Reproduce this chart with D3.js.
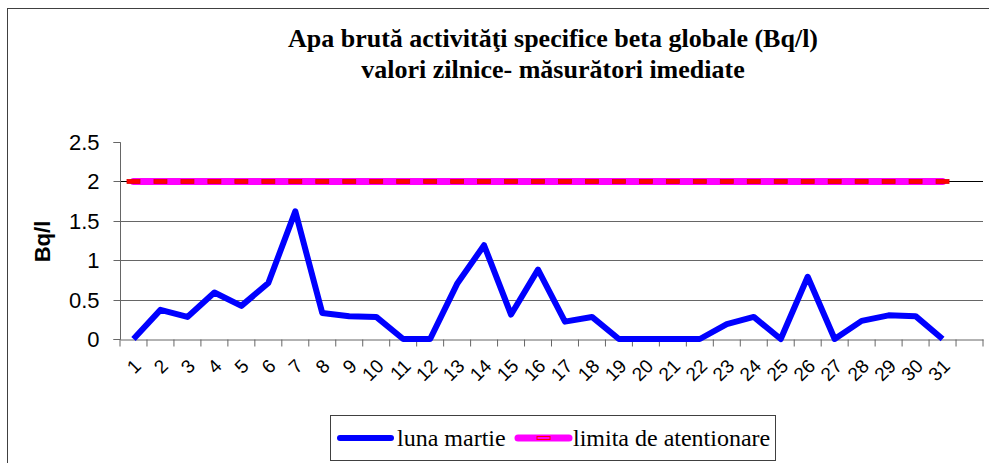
<!DOCTYPE html>
<html>
<head>
  <meta charset="utf-8">
  <title>Apa bruta beta globale</title>
  <script src="https://d3js.org/d3.v7.min.js"></script>
  <style>
    body { margin: 0; background: #fff; }
    svg { display: block; }
  </style>
</head>
<body>
  <svg id="chart"></svg>

  <script>
    // date
    var days = ["1","2","3","4","5","6","7","8","9","10","11","12","13","14","15","16",
                "17","18","19","20","21","22","23","24","25","26","27","28","29","30","31"];
    var lunaMartie = [0, 0.37, 0.28, 0.59, 0.42, 0.71, 1.62, 0.33, 0.29, 0.28, 0, 0, 0.70, 1.19, 0.31, 0.88,
                      0.22, 0.28, 0, 0, 0, 0, 0.19, 0.28, 0, 0.79, 0, 0.23, 0.30, 0.29, 0];
    var limita = [2,2,2,2,2,2,2,2,2,2,2,2,2,2,2,2,2,2,2,2,2,2,2,2,2,2,2,2,2,2,2];
    var yTicks = [0, 0.5, 1, 1.5, 2, 2.5];
    var gridTicks = [0.5, 1, 1.5, 2];
    var titleLines = ["Apa brută activităţi specifice beta globale (Bq/l)", "valori zilnice- măsurători imediate"];
    var legendNames = ["luna martie", "limita de atentionare"];

    var width = 989, height = 463;
    var pLeft = 120, pRight = 983, pTop = 142, pBottom = 339;

    var svg = d3.select("#chart")
      .attr("width", width)
      .attr("height", height);

    // chenarul graficului (iese din imagine la dreapta si jos)
    svg.append("rect")
      .attr("x", 7.5).attr("y", 8.5)
      .attr("width", 1000).attr("height", 500)
      .attr("fill", "none")
      .attr("stroke", "#404040");

    // titlu
    svg.selectAll(".title")
      .data(titleLines)
      .enter()
      .append("text")
      .attr("class", "title")
      .attr("x", 553)
      .attr("y", function(d, i) { return 47 + i * 31; })
      .attr("text-anchor", "middle")
      .style("font-family", "'Liberation Serif', 'Times New Roman', serif")
      .style("font-weight", "bold")
      .style("font-size", "26px")
      .text(function(d) { return d; });

    // scale (o categorie goala dupa ziua 31)
    var slots = days.concat([""]);
    var x = d3.scaleBand().domain(slots).range([pLeft, pRight]).padding(0);
    var y = d3.scaleLinear().domain([0, 2.5]).range([pBottom, pTop]);
    var cx = function(d) { return x(d) + x.bandwidth() / 2; };

    // linii de grila
    svg.append("g")
      .selectAll("line")
      .data(gridTicks)
      .enter()
      .append("line")
      .attr("x1", pLeft).attr("x2", pRight)
      .attr("y1", function(d) { return Math.round(y(d)) + 0.5; })
      .attr("y2", function(d) { return Math.round(y(d)) + 0.5; })
      .attr("stroke", function(d) { return d === 2 ? "#000" : "#666"; })
      .attr("stroke-width", 1);

    // axa Y
    var yAxis = svg.append("g")
      .attr("transform", "translate(" + (pLeft + 0.5) + ",0)")
      .call(d3.axisLeft(y).tickValues(yTicks).tickSize(7).tickPadding(14)
        .tickFormat(function(d) { return d; }));
    yAxis.selectAll("path, line").attr("stroke", "#666");
    yAxis.select(".domain").attr("d", "M-7," + (Math.round(pTop) + 0.5) + "H0V" + (Math.round(pBottom) + 0.5) + "H-7");
    yAxis.selectAll(".tick").attr("transform", function(d) { return "translate(0," + (Math.round(y(d)) + 0.5) + ")"; });
    yAxis.selectAll("text")
      .style("font-family", "'Liberation Sans', Arial, sans-serif")
      .style("font-size", "22px")
      .attr("fill", "#000");

    // axa X
    var xAxis = svg.append("g")
      .attr("transform", "translate(0," + (Math.round(pBottom) + 0.5) + ")")
      .call(d3.axisBottom(x).tickSize(7).tickSizeOuter(0));
    xAxis.select(".domain").attr("stroke", "#666");
    xAxis.selectAll(".tick line")
      .attr("stroke", "#666")
      .attr("x1", -x.bandwidth() / 2).attr("x2", -x.bandwidth() / 2);
    xAxis.append("line")
      .attr("x1", pRight).attr("x2", pRight)
      .attr("y1", 0).attr("y2", 7)
      .attr("stroke", "#666");
    xAxis.selectAll(".tick text")
      .attr("text-anchor", "end")
      .attr("y", 0).attr("dy", "0.35em")
      .attr("transform", "translate(4,23) rotate(-45)")
      .style("font-family", "'Liberation Sans', Arial, sans-serif")
      .style("font-size", "19px")
      .attr("fill", "#000");

    // eticheta axa Y
    svg.append("text")
      .attr("transform", "translate(50," + ((pTop + pBottom) / 2 + 1) + ") rotate(-90)")
      .attr("text-anchor", "middle")
      .style("font-family", "'Liberation Sans', Arial, sans-serif")
      .style("font-weight", "bold")
      .style("font-size", "22px")
      .text("Bq/l");

    var line = d3.line()
      .x(function(d, i) { return cx(days[i]); })
      .y(function(d) { return y(d); });

    // limita de atentionare
    svg.append("path")
      .datum(limita)
      .attr("d", line)
      .attr("fill", "none")
      .attr("stroke", "#ff00ff")
      .attr("stroke-width", 7)
      .attr("stroke-linecap", "round");

    svg.append("g")
      .selectAll("rect")
      .data(limita)
      .enter()
      .append("rect")
      .attr("x", function(d, i) { return cx(days[i]) - 6.5; })
      .attr("y", function(d) { return y(d) - 2; })
      .attr("width", 13).attr("height", 4)
      .attr("fill", "#ff0000")
      .attr("stroke", "#e00000")
      .attr("stroke-width", 0.8);

    // luna martie
    svg.append("path")
      .datum(lunaMartie)
      .attr("d", line)
      .attr("fill", "none")
      .attr("stroke", "#0000ff")
      .attr("stroke-width", 6)
      .attr("stroke-linejoin", "round");

    // legenda
    var legend = svg.append("g");
    legend.append("rect")
      .attr("x", 330.5).attr("y", 415.5)
      .attr("width", 445).attr("height", 45)
      .attr("fill", "#fff")
      .attr("stroke", "#404040");

    var legendItems = [
      { x1: 340, x2: 391, tx: 397, color: "#0000ff", w: 6, marker: false },
      { x1: 518, x2: 569, tx: 573, color: "#ff00ff", w: 7, marker: true }
    ];
    legendItems.forEach(function(it, i) {
      legend.append("line")
        .attr("x1", it.x1).attr("x2", it.x2)
        .attr("y1", 438).attr("y2", 438)
        .attr("stroke", it.color)
        .attr("stroke-width", it.w)
        .attr("stroke-linecap", "round");
      if (it.marker) {
        legend.append("rect")
          .attr("x", (it.x1 + it.x2) / 2 - 6.5).attr("y", 436.5)
          .attr("width", 13).attr("height", 3)
          .attr("fill", "#ff00ff")
          .attr("stroke", "#ff0000")
          .attr("stroke-width", 1);
      }
      legend.append("text")
        .attr("x", it.tx).attr("y", 446)
        .style("font-family", "'Liberation Serif', 'Times New Roman', serif")
        .style("font-size", "24px")
        .text(legendNames[i]);
    });
  </script>
</body>
</html>
